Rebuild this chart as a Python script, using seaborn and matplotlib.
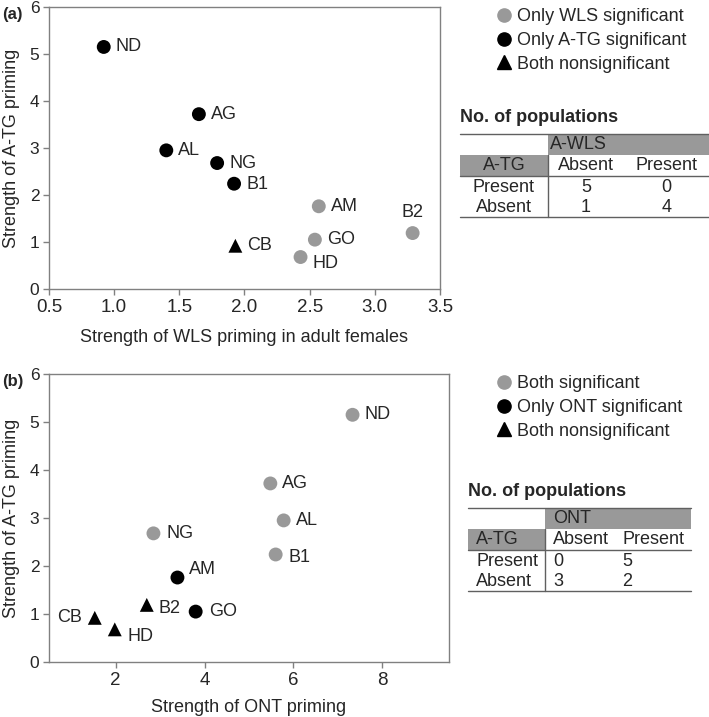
import numpy as np
import pandas as pd
import matplotlib
matplotlib.use("Agg")
import matplotlib.pyplot as plt
from matplotlib.lines import Line2D
from matplotlib.patches import Rectangle
import seaborn as sns

# population data
populations = ["ND", "AG", "AL", "NG", "B1", "AM", "GO", "HD", "CB", "B2"]
wls_priming = [0.92, 1.65, 1.40, 1.79, 1.92, 2.57, 2.54, 2.43, 1.93, 3.29]
atg_priming = [5.15, 3.72, 2.95, 2.68, 2.24, 1.76, 1.05, 0.68, 0.92, 1.19]
ont_priming = [7.33, 5.48, 5.78, 2.85, 5.60, 3.39, 3.80, 1.98, 1.53, 2.70]

group_a = ["Only A-TG significant"] * 5 + ["Only WLS significant"] * 3 + ["Both nonsignificant"] + ["Only WLS significant"]
group_b = ["Both significant"] * 5 + ["Only ONT significant"] * 2 + ["Both nonsignificant"] * 3

legend_a = ["Only WLS significant", "Only A-TG significant", "Both nonsignificant"]
legend_b = ["Both significant", "Only ONT significant", "Both nonsignificant"]

# contingency tables (No. of populations)
table_a_cols = ["Absent", "Present"]
table_a_rows = ["Present", "Absent"]
table_a_vals = [[5, 0], [1, 4]]
table_b_cols = ["Absent", "Present"]
table_b_rows = ["Present", "Absent"]
table_b_vals = [[0, 5], [3, 2]]

GREY = "#999999"
SPINE = "#808080"
W, H = 709, 717
FS = 13

df = pd.DataFrame({"pop": populations, "wls": wls_priming, "atg": atg_priming,
                   "ont": ont_priming, "ga": group_a, "gb": group_b})

sns.set_style("white")
plt.rcParams["font.family"] = ["Liberation Sans", "DejaVu Sans"]
plt.rcParams["font.size"] = FS

fig = plt.figure(figsize=(W / 100, H / 100), dpi=100)


def px_box(left, top, right, bottom):
    return [left / W, 1 - bottom / H, (right - left) / W, (bottom - top) / H]


ax_a = fig.add_axes(px_box(49, 7, 440, 289))
ax_b = fig.add_axes(px_box(49, 374, 449, 662))

pal_a = {"Only WLS significant": GREY, "Only A-TG significant": "black", "Both nonsignificant": "black"}
mk_a = {"Only WLS significant": "o", "Only A-TG significant": "o", "Both nonsignificant": "^"}
pal_b = {"Both significant": GREY, "Only ONT significant": "black", "Both nonsignificant": "black"}
mk_b = {"Both significant": "o", "Only ONT significant": "o", "Both nonsignificant": "^"}

sns.scatterplot(data=df, x="wls", y="atg", hue="ga", style="ga", palette=pal_a,
                markers=mk_a, s=100, edgecolor="none", legend=False, ax=ax_a, zorder=3)
sns.scatterplot(data=df, x="ont", y="atg", hue="gb", style="gb", palette=pal_b,
                markers=mk_b, s=100, edgecolor="none", legend=False, ax=ax_b, zorder=3)

# label offsets in pixels (dx, dy, ha)
off_a = {"ND": (12, 0, "left"), "AG": (12, 0, "left"), "AL": (12, 0, "left"),
         "NG": (12, 0, "left"), "B1": (12, -1, "left"), "AM": (12, 0, "left"),
         "GO": (12, 0, "left"), "HD": (12, -6, "left"), "CB": (12, 0, "left"),
         "B2": (0, 21, "center")}
off_b = {"ND": (12, 0, "left"), "AG": (12, 0, "left"), "AL": (12, 0, "left"),
         "NG": (13, 0, "left"), "B1": (13, -3, "left"), "AM": (12, 8, "left"),
         "GO": (13, 0, "left"), "HD": (13, -7, "left"), "CB": (-13, 0, "right"),
         "B2": (12, -4, "left")}

for p, x, y in zip(populations, wls_priming, atg_priming):
    dx, dy, ha = off_a[p]
    ax_a.annotate(p, (x, y), xytext=(dx, dy), textcoords="offset pixels",
                  ha=ha, va="center", fontsize=FS)
for p, x, y in zip(populations, ont_priming, atg_priming):
    dx, dy, ha = off_b[p]
    ax_b.annotate(p, (x, y), xytext=(dx, dy), textcoords="offset pixels",
                  ha=ha, va="center", fontsize=FS)

ax_a.set_xlim(0.5, 3.5)
ax_a.set_xticks(np.arange(0.5, 3.51, 0.5))
ax_a.set_xticklabels([f"{v:.1f}" for v in np.arange(0.5, 3.51, 0.5)])
ax_b.set_xlim(0.5, 9.5)
ax_b.set_xticks([2, 4, 6, 8])
for ax in (ax_a, ax_b):
    ax.set_ylim(0, 6)
    ax.set_yticks(range(7))
    ax.set_ylabel("Strength of A-TG priming", fontsize=FS)
    ax.tick_params(axis="both", direction="out", length=4, width=1, color=SPINE,
                   pad=3, bottom=True, left=True)
    ax.tick_params(axis="x", labelsize=13.5)
    ax.tick_params(axis="y", labelsize=12.5)
    for s in ax.spines.values():
        s.set_color(SPINE)
        s.set_linewidth(1)
ax_a.set_xlabel("Strength of WLS priming in adult females", fontsize=FS)
ax_b.set_xlabel("Strength of ONT priming", fontsize=FS)
ax_a.xaxis.set_label_coords(0.5, (289 - 337) / 282)
ax_b.xaxis.set_label_coords(0.5, (662 - 708) / 288)
ax_a.yaxis.set_label_coords((12 - 49) / 391, 0.5)
ax_b.yaxis.set_label_coords((12 - 49) / 400, 0.5)
for ax in (ax_a, ax_b):
    ax.xaxis.label.set_va("center")
    ax.yaxis.label.set_va("center")

fig.text(2 / W, 1 - 15 / H, "(a)", fontsize=12, fontweight="bold", va="center")
fig.text(2 / W, 1 - 382 / H, "(b)", fontsize=12, fontweight="bold", va="center")


def add_legend(labels, pal, mk, top):
    handles = [Line2D([], [], linestyle="none", marker=mk[l], color=pal[l],
                      markersize=9.5) for l in labels]
    fig.legend(handles, labels, loc="upper left", bbox_to_anchor=(497 / W, 1 - top / H),
               frameon=False, fontsize=FS, handlelength=0.8, handletextpad=0.3,
               labelspacing=0.38, borderpad=0, borderaxespad=0)


add_legend(legend_a, pal_a, mk_a, 8)
add_legend(legend_b, pal_b, mk_b, 375)

# overlay axes in pixel coordinates for the count tables
ov = fig.add_axes([0, 0, 1, 1], zorder=-1)
ov.set_xlim(0, W)
ov.set_ylim(H, 0)
ov.axis("off")


def draw_table(x0, x1, xs, top, title, col_head, cols, rows, vals, centered):
    rh = 21
    ov.text(x0, top - 17, title, fontsize=FS, fontweight="bold", va="center")
    ov.add_patch(Rectangle((xs, top), x1 - xs, rh, color=GREY, lw=0))
    ov.add_patch(Rectangle((x0, top + rh), xs - x0, rh, color=GREY, lw=0))
    lc = "#606060"
    ov.plot([x0, x1], [top, top], color=lc, lw=1)
    ov.plot([x0, x1], [top + 2 * rh, top + 2 * rh], color=lc, lw=1)
    bot = top + 2 * rh + 41
    ov.plot([x0, x1], [bot, bot], color=lc, lw=1)
    ov.plot([xs, xs], [top + rh, bot], color=lc, lw=1)
    half = (x1 - xs) / 2
    if centered:
        cx = [xs + half * 0.47, xs + half * 1.47]
        rx, ha = (x0 + xs) / 2, "center"
    else:
        cx = [xs + 8, xs + 77]
        rx, ha = x0 + 8, "left"
    ov.text(xs + 2 if centered else xs + 8, top + rh / 2, col_head, fontsize=FS, va="center")
    ov.text(rx, top + rh * 1.5, "A-TG", fontsize=FS, va="center", ha=ha)
    for c, x in zip(cols, cx):
        ov.text(x, top + rh * 1.5, c, fontsize=FS, va="center", ha=ha)
    for i, (r, row) in enumerate(zip(rows, vals)):
        y = top + 2 * rh + 11 + i * 20
        ov.text(rx, y, r, fontsize=FS, va="center", ha=ha)
        for v, x in zip(row, cx):
            ov.text(x, y, str(v), fontsize=FS, va="center", ha=ha)


draw_table(460, 709, 548, 134, "No. of populations", "A-WLS",
           table_a_cols, table_a_rows, table_a_vals, True)
draw_table(468, 691, 545, 508, "No. of populations", "ONT",
           table_b_cols, table_b_rows, table_b_vals, False)

fig.savefig("out.png", dpi=100)
